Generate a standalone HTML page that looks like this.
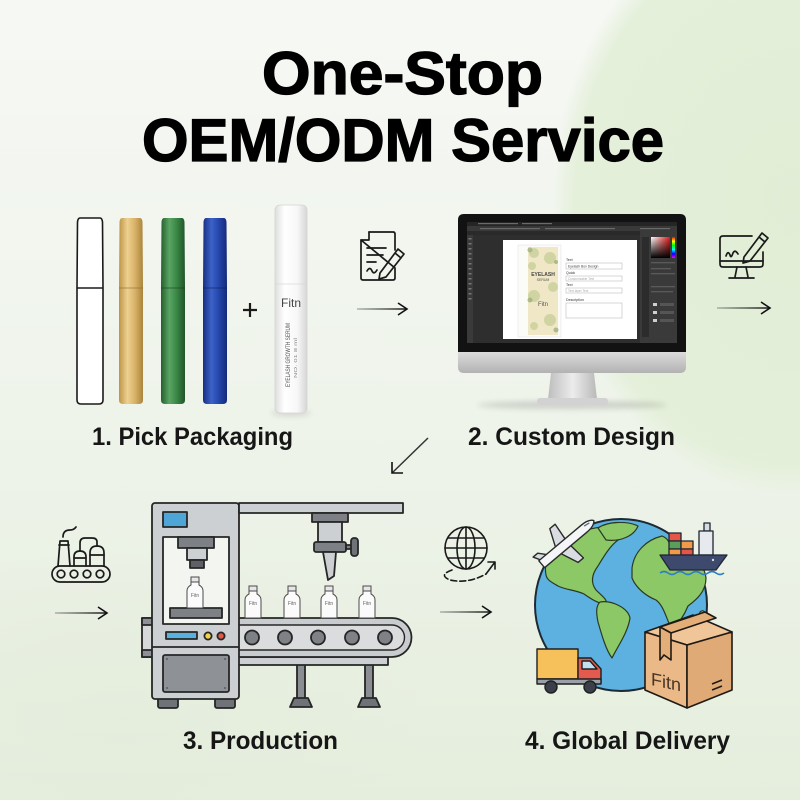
<!DOCTYPE html>
<html><head><meta charset="utf-8"><style>
html,body{margin:0;padding:0;width:800px;height:800px;overflow:hidden;background:#f1f5ee}
svg{display:block;overflow:hidden}
text{font-family:"Liberation Sans",sans-serif}
</style></head><body>
<svg width="800" height="800" viewBox="0 0 800 800" xmlns="http://www.w3.org/2000/svg">
<defs>
<clipPath id="pg"><rect width="800" height="800"/></clipPath>
<linearGradient id="bg" x1="0" y1="0" x2="0" y2="1">
<stop offset="0" stop-color="#f6f8f4"/><stop offset="0.5" stop-color="#eff4eb"/><stop offset="1" stop-color="#e5eedd"/></linearGradient>
<radialGradient id="blob" gradientUnits="userSpaceOnUse" cx="0" cy="0" r="1" gradientTransform="translate(790 200) scale(250 310)">
<stop offset="0" stop-color="#e1edd5"/><stop offset="0.86" stop-color="#e3efd8" stop-opacity="0.9"/><stop offset="0.95" stop-color="#e3efd8" stop-opacity="0"/></radialGradient>
<radialGradient id="blob2" gradientUnits="userSpaceOnUse" cx="0" cy="0" r="1" gradientTransform="translate(120 720) scale(320 170)">
<stop offset="0" stop-color="#e4ecdc" stop-opacity="0.8"/><stop offset="1" stop-color="#e4ecdc" stop-opacity="0"/></radialGradient>
<filter id="blur3" x="-20%" y="-100%" width="140%" height="300%"><feGaussianBlur stdDeviation="3"/></filter>
<linearGradient id="gold" x1="0" x2="1"><stop offset="0" stop-color="#bd9448"/><stop offset="0.35" stop-color="#ecd190"/><stop offset="0.65" stop-color="#dab469"/><stop offset="1" stop-color="#ab843b"/></linearGradient>
<linearGradient id="green" x1="0" x2="1"><stop offset="0" stop-color="#255f2e"/><stop offset="0.35" stop-color="#5aa564"/><stop offset="0.65" stop-color="#3a8745"/><stop offset="1" stop-color="#215528"/></linearGradient>
<linearGradient id="blue" x1="0" x2="1"><stop offset="0" stop-color="#172f85"/><stop offset="0.35" stop-color="#3d62c8"/><stop offset="0.65" stop-color="#2447ad"/><stop offset="1" stop-color="#142a78"/></linearGradient>
<linearGradient id="white" x1="0" x2="1"><stop offset="0" stop-color="#dedede"/><stop offset="0.3" stop-color="#ffffff"/><stop offset="0.7" stop-color="#f7f7f7"/><stop offset="1" stop-color="#d6d6d6"/></linearGradient>
<linearGradient id="chin" x1="0" y1="0" x2="0" y2="1"><stop offset="0" stop-color="#dcdcdc"/><stop offset="1" stop-color="#b2b2b2"/></linearGradient>
<linearGradient id="neck" x1="0" x2="1"><stop offset="0" stop-color="#bdbdbd"/><stop offset="0.5" stop-color="#ececec"/><stop offset="1" stop-color="#b9b9b9"/></linearGradient>
<linearGradient id="picker" x1="0" x2="1"><stop offset="0" stop-color="#ffffff"/><stop offset="1" stop-color="#e01a1a"/></linearGradient>
<linearGradient id="pickerd" x1="0" y1="0" x2="0" y2="1"><stop offset="0" stop-color="#000" stop-opacity="0"/><stop offset="1" stop-color="#000"/></linearGradient>
<linearGradient id="rainbow" x1="0" y1="0" x2="0" y2="1"><stop offset="0" stop-color="#f00"/><stop offset="0.2" stop-color="#ff0"/><stop offset="0.4" stop-color="#0f0"/><stop offset="0.6" stop-color="#0ff"/><stop offset="0.8" stop-color="#00f"/><stop offset="1" stop-color="#f0f"/></linearGradient>
<linearGradient id="a1" gradientUnits="userSpaceOnUse" x1="357" y1="0" x2="407" y2="0"><stop offset="0" stop-color="#222" stop-opacity="0.3"/><stop offset="1" stop-color="#111"/></linearGradient>
<linearGradient id="a2" gradientUnits="userSpaceOnUse" x1="717" y1="0" x2="770" y2="0"><stop offset="0" stop-color="#222" stop-opacity="0.3"/><stop offset="1" stop-color="#111"/></linearGradient>
<linearGradient id="a3" gradientUnits="userSpaceOnUse" x1="55" y1="0" x2="107" y2="0"><stop offset="0" stop-color="#222" stop-opacity="0.3"/><stop offset="1" stop-color="#111"/></linearGradient>
<linearGradient id="a4" gradientUnits="userSpaceOnUse" x1="440" y1="0" x2="491" y2="0"><stop offset="0" stop-color="#222" stop-opacity="0.3"/><stop offset="1" stop-color="#111"/></linearGradient>
</defs>

<g clip-path="url(#pg)">
<rect width="800" height="800" fill="url(#bg)"/>
<rect width="800" height="800" fill="url(#blob)"/>
<rect width="800" height="800" fill="url(#blob2)"/>

<!-- title -->
<text x="262" y="94" font-size="60" font-weight="bold" fill="#000" stroke="#000" stroke-width="1.3" textLength="281" lengthAdjust="spacingAndGlyphs">One-Stop</text>
<text x="142" y="161" font-size="60" font-weight="bold" fill="#000" stroke="#000" stroke-width="1.3" textLength="522" lengthAdjust="spacingAndGlyphs">OEM/ODM Service</text>

<!-- ========== Step 1: tubes ========== -->
<g stroke-linejoin="round">
<path d="M80,218 H100 Q102,218 102.5,222 L103,288 V400 Q103,404 99,404 H81 Q77,404 77,400 V288 L77.5,222 Q78,218 80,218 Z" fill="#fff" stroke="#1a1a1a" stroke-width="1.6"/>
<line x1="77" y1="288" x2="103" y2="288" stroke="#1a1a1a" stroke-width="1.4"/>
<path d="M122,218 H140 Q142,218 142.5,222 L143,288 V400 Q143,404 139,404 H123 Q119,404 119,400 V288 L119.5,222 Q120,218 122,218 Z" fill="url(#gold)"/>
<line x1="119" y1="288" x2="143" y2="288" stroke="#8d6c30" stroke-width="1" opacity="0.6"/>
<path d="M164,218 H182 Q184,218 184.5,222 L185,288 V400 Q185,404 181,404 H165 Q161,404 161,400 V288 L161.5,222 Q162,218 164,218 Z" fill="url(#green)"/>
<line x1="161" y1="288" x2="185" y2="288" stroke="#163f1c" stroke-width="1" opacity="0.6"/>
<path d="M206,218 H224 Q226,218 226.5,222 L227,288 V400 Q227,404 223,404 H207 Q203,404 203,400 V288 L203.5,222 Q204,218 206,218 Z" fill="url(#blue)"/>
<line x1="203" y1="288" x2="227" y2="288" stroke="#0d1f5c" stroke-width="1" opacity="0.6"/>
</g>
<path d="M243,310 H257 M250,303 V317" stroke="#1a1a1a" stroke-width="2.2"/>
<ellipse cx="291" cy="413" rx="20" ry="3" fill="#000" opacity="0.12" filter="url(#blur3)"/>
<rect x="275" y="205" width="32" height="208" rx="5" fill="url(#white)" stroke="#d4d4d4" stroke-width="0.8"/>
<line x1="275.5" y1="284" x2="306.5" y2="284" stroke="#d8d8d8" stroke-width="0.8"/>
<text x="291" y="307" font-size="12" text-anchor="middle" fill="#444" font-family="Liberation Serif,serif">Fitn</text>
<text transform="translate(290,387) rotate(-90)" font-size="6" fill="#555" textLength="64" lengthAdjust="spacingAndGlyphs">EYELASH GROWTH SERUM</text>
<text transform="translate(297,378) rotate(-90)" font-size="4.5" fill="#888" textLength="40" lengthAdjust="spacingAndGlyphs">NO. 01 8 ml</text>

<!-- doc icon -->
<g fill="none" stroke="#1a1a1a" stroke-width="1.7" stroke-linejoin="round" stroke-linecap="round">
<path d="M369,232 H393 Q395,232 395,234 V250 M395,268 V278 Q395,280 393,280 H363 Q361,280 361,278 V240 Z"/>
<path d="M369,232 V240 H361"/>
<path d="M367,248 H386 M367,255 H383 M367,262 H376"/>
<path d="M367,271 q3,-5 5,0 q2,4 5,-1"/>
<path d="M380,273 L398,249 L404,254 L386,277 L379,279 Z M395,253 L401,258"/>
</g>
<path d="M357,309 H406" stroke="url(#a1)" stroke-width="1.6"/>
<path d="M398,303 L407,309 L398,315" fill="none" stroke="#111" stroke-width="1.6"/>

<!-- ========== Step 2: monitor ========== -->
<ellipse cx="572" cy="405" rx="95" ry="4" fill="#000" opacity="0.14" filter="url(#blur3)"/>
<path d="M551,373 L594,373 L597,399 L548,399 Z" fill="url(#neck)"/>
<rect x="537" y="398" width="71" height="7" rx="3" fill="#d2d2d2"/>
<path d="M458,352 V220 Q458,214 464,214 H680 Q686,214 686,220 V352 Z" fill="#121212"/>
<path d="M458,352 H686 V367 Q686,373 680,373 H464 Q458,373 458,367 Z" fill="url(#chin)"/>
<rect x="467" y="222" width="210" height="121" fill="#2e2e2e"/>
<rect x="467" y="222" width="210" height="4" fill="#252525"/>
<rect x="467" y="226" width="210" height="5" fill="#393939"/>
<rect x="467" y="231" width="173" height="4" fill="#2a2a2a"/>
<rect x="467" y="235" width="6" height="108" fill="#3a3a3a"/>
<g fill="#777"><rect x="468.5" y="238" width="3" height="1.5"/><rect x="468.5" y="243" width="3" height="1.5"/><rect x="468.5" y="248" width="3" height="1.5"/><rect x="468.5" y="253" width="3" height="1.5"/><rect x="468.5" y="258" width="3" height="1.5"/><rect x="468.5" y="263" width="3" height="1.5"/><rect x="468.5" y="268" width="3" height="1.5"/><rect x="468.5" y="273" width="3" height="1.5"/><rect x="468.5" y="278" width="3" height="1.5"/><rect x="468.5" y="283" width="3" height="1.5"/><rect x="468.5" y="288" width="3" height="1.5"/><rect x="468.5" y="293" width="3" height="1.5"/><rect x="468.5" y="298" width="3" height="1.5"/></g>
<g fill="#6a6a6a"><rect x="478" y="223" width="40" height="1.2"/><rect x="522" y="223" width="30" height="1.2"/><rect x="480" y="228" width="60" height="1.2"/><rect x="545" y="228" width="70" height="1.2"/><rect x="640" y="228" width="30" height="1.2"/></g>
<rect x="640" y="231" width="37" height="112" fill="#3a3a3a"/>
<rect x="642" y="237" width="7" height="100" fill="#2c2c2c"/>
<rect x="651" y="237" width="19" height="21" fill="url(#picker)"/>
<rect x="651" y="237" width="19" height="21" fill="url(#pickerd)"/>
<rect x="672" y="237" width="3" height="21" fill="url(#rainbow)"/>
<g fill="#5a5a5a"><rect x="651" y="262" width="24" height="1.3"/><rect x="651" y="268" width="20" height="1.3"/><rect x="651" y="273" width="24" height="1.3"/><rect x="651" y="286" width="24" height="1.3"/><rect x="651" y="291" width="22" height="1.3"/></g>
<g fill="#cfcfcf"><rect x="653" y="303" width="4" height="3"/><rect x="653" y="311" width="4" height="3"/><rect x="653" y="319" width="4" height="3"/></g>
<g fill="#555"><rect x="660" y="303" width="14" height="3"/><rect x="660" y="311" width="14" height="3"/><rect x="660" y="319" width="14" height="3"/></g>
<rect x="503" y="240" width="134" height="99" fill="#ffffff"/>
<rect x="518" y="245" width="43" height="92" fill="#fbfbf8" stroke="#e0e0e0" stroke-width="0.5"/>
<rect x="528" y="247" width="30" height="88" fill="#efe7c6"/>
<g fill="#cdd3a0" opacity="0.9">
<circle cx="534" cy="253" r="5"/><circle cx="550" cy="258" r="6"/><circle cx="532" cy="266" r="4"/><circle cx="553" cy="287" r="5"/><circle cx="534" cy="296" r="6"/><circle cx="550" cy="320" r="6"/><circle cx="534" cy="326" r="4"/></g>
<g fill="#9fb07a" opacity="0.8"><circle cx="530" cy="250" r="2.5"/><circle cx="556" cy="262" r="2"/><circle cx="530" cy="300" r="2.5"/><circle cx="556" cy="330" r="2.5"/></g>
<text x="543" y="276" font-size="5" text-anchor="middle" font-weight="bold" fill="#444">EYELASH</text>
<text x="543" y="281" font-size="3.5" text-anchor="middle" fill="#555">SERUM</text>
<text x="543" y="306" font-size="6" text-anchor="middle" fill="#555">Fitn</text>
<g font-size="3.6" fill="#333">
<text x="566" y="261">Text</text>
<text x="566" y="274">Quick</text>
<text x="566" y="286">Text</text>
<text x="566" y="301">Description</text>
</g>
<g fill="#fff" stroke="#bdbdbd" stroke-width="0.6">
<rect x="566" y="263" width="56" height="6"/><rect x="566" y="276" width="56" height="5"/><rect x="566" y="288" width="56" height="5"/><rect x="566" y="303" width="56" height="15"/></g>
<g font-size="3.4" fill="#444"><text x="568" y="267.5">Eyelash Box Design</text></g>
<g font-size="3.2" fill="#aaa"><text x="568" y="280">Customizable Text</text><text x="568" y="292">Text layer Text</text></g>

<!-- monitor-pen icon -->
<g fill="none" stroke="#1a1a1a" stroke-width="1.7" stroke-linejoin="round" stroke-linecap="round">
<path d="M752,236 H723 Q720,236 720,239 V264 Q720,267 723,267 H760 Q763,267 763,264 V252"/>
<path d="M720,261 H763"/>
<path d="M737,267 L735,277 M746,267 L748,277 M729,278 H754"/>
<path d="M726,256 q2,-6 4,-1 q1,4 3,-2 q2,-4 5,1"/>
<path d="M744,257 L762,233 L768,238 L750,261 L743,263 Z M759,237 L765,242"/>
</g>
<path d="M717,308 H769" stroke="url(#a2)" stroke-width="1.6"/>
<path d="M761,302 L770,308 L761,314" fill="none" stroke="#111" stroke-width="1.6"/>

<!-- diagonal arrow -->
<path d="M428,438 L392,473" stroke="#333" stroke-width="1.5"/>
<path d="M392,462 L392,473 L403,473" fill="none" stroke="#111" stroke-width="1.6"/>

<text x="92" y="445" font-size="25" font-weight="bold" fill="#161616" textLength="201" lengthAdjust="spacingAndGlyphs">1. Pick Packaging</text>
<text x="468" y="445" font-size="25" font-weight="bold" fill="#161616" textLength="207" lengthAdjust="spacingAndGlyphs">2. Custom Design</text>

<!-- ========== Step 3: production ========== -->
<g fill="none" stroke="#1a1a1a" stroke-width="1.7" stroke-linejoin="round" stroke-linecap="round">
<rect x="52" y="566" width="58" height="16" rx="8"/>
<circle cx="61" cy="574" r="3.8"/><circle cx="74" cy="574" r="3.8"/><circle cx="87" cy="574" r="3.8"/><circle cx="100" cy="574" r="3.8"/>
<path d="M58,566 L60,541 H68 L70,566"/>
<path d="M59,545 H69"/>
<path d="M63,537 q0,-7 7,-7 q4,0 6,-3"/>
<path d="M74,566 V557 Q74,551 80,551 Q86,551 86,557 V566"/>
<path d="M74,558 H86"/>
<path d="M90,566 V553 Q90,546 97,546 Q104,546 104,553 V566"/>
<path d="M90,555 H104"/>
<path d="M80,551 V543 Q80,538 85,538 H92 Q97,538 97,542 V546"/>
</g>
<path d="M55,613 H106" stroke="url(#a3)" stroke-width="1.6"/>
<path d="M98,607 L107,613 L98,619" fill="none" stroke="#111" stroke-width="1.6"/>

<g stroke="#262626" stroke-width="1.8" stroke-linejoin="round">
<rect x="142" y="618" width="11" height="39" fill="#d6d8da"/>
<rect x="142" y="618" width="11" height="7" fill="#8d9195"/>
<rect x="142" y="650" width="11" height="7" fill="#8d9195"/>
<rect x="297" y="664" width="8" height="35" fill="#8a8e92"/>
<rect x="365" y="664" width="8" height="35" fill="#8a8e92"/>
<path d="M290,707 L312,707 L308,698 L294,698 Z" fill="#6f7377"/>
<path d="M358,707 L380,707 L376,698 L362,698 Z" fill="#6f7377"/>
<rect x="238" y="657" width="150" height="8" fill="#cdd0d3"/>
<path d="M238,618 H392 A19.5,19.5 0 0 1 392,657 H238 Z" fill="#c9ccce"/>
<path d="M238,625 H392 A12.5,12.5 0 0 1 392,650 H238 Z" fill="#dadcde" stroke-width="1.4"/>
<circle cx="252" cy="637.5" r="7" fill="#7e8286"/>
<circle cx="285" cy="637.5" r="7" fill="#7e8286"/>
<circle cx="318" cy="637.5" r="7" fill="#7e8286"/>
<circle cx="352" cy="637.5" r="7" fill="#7e8286"/>
<circle cx="385" cy="637.5" r="7" fill="#7e8286"/>
<rect x="158" y="697" width="20" height="11" rx="2" fill="#6f7377"/>
<rect x="215" y="697" width="20" height="11" rx="2" fill="#6f7377"/>
<rect x="152" y="503" width="87" height="196" rx="3" fill="#cdd0d3"/>
<rect x="163" y="537" width="66" height="87" fill="#f3f6f0"/>
<line x1="152" y1="647" x2="239" y2="647"/>
<rect x="163" y="655" width="66" height="37" rx="2" fill="#8e9296"/>
<rect x="163" y="512" width="24" height="15" fill="#4da5d8"/>
<rect x="166" y="632" width="31" height="7" fill="#58b2df"/>
<circle cx="208" cy="636" r="3.6" fill="#f2d24a"/>
<circle cx="221" cy="636" r="3.6" fill="#e0584a"/>
<rect x="239" y="503" width="164" height="10" fill="#cdd0d3"/>
<rect x="178" y="537" width="36" height="11" fill="#7d8185"/>
<rect x="187" y="548" width="20" height="12" fill="#cdd0d3"/>
<rect x="190" y="560" width="14" height="8" fill="#5d6165"/>
<rect x="170" y="608" width="52" height="10" fill="#7d8185"/>
<rect x="312" y="513" width="36" height="9" fill="#7d8185"/>
<rect x="318" y="522" width="24" height="20" fill="#cdd0d3"/>
<rect x="314" y="542" width="32" height="10" rx="2" fill="#7d8185"/>
<rect x="346" y="545" width="6" height="4" fill="#7d8185"/>
<rect x="351" y="538" width="7" height="18" rx="3" fill="#6f7377"/>
<path d="M323,552 L336,552 L334,576 L328,580 Z" fill="#cdd0d3"/>
</g>
<g fill="#5a5d60"><circle cx="167" cy="659" r="1"/><circle cx="225" cy="659" r="1"/><circle cx="167" cy="688" r="1"/><circle cx="225" cy="688" r="1"/></g>
<g stroke="#4a4a4a" stroke-width="1" fill="#fbfbfb">
<g transform="translate(195,577)"><rect x="-4" y="0" width="8" height="5" fill="#e6e6e6"/><path d="M-4,5 L-4,8 Q-8,10 -8,14 L-8,31 L8,31 L8,14 Q8,10 4,8 L4,5 Z"/></g>
<g transform="translate(253,586)"><rect x="-4" y="0" width="8" height="5" fill="#e6e6e6"/><path d="M-4,5 L-4,8 Q-8,10 -8,14 L-8,32 L8,32 L8,14 Q8,10 4,8 L4,5 Z"/></g>
<g transform="translate(292,586)"><rect x="-4" y="0" width="8" height="5" fill="#e6e6e6"/><path d="M-4,5 L-4,8 Q-8,10 -8,14 L-8,32 L8,32 L8,14 Q8,10 4,8 L4,5 Z"/></g>
<g transform="translate(329,586)"><rect x="-4" y="0" width="8" height="5" fill="#e6e6e6"/><path d="M-4,5 L-4,8 Q-8,10 -8,14 L-8,32 L8,32 L8,14 Q8,10 4,8 L4,5 Z"/></g>
<g transform="translate(367,586)"><rect x="-4" y="0" width="8" height="5" fill="#e6e6e6"/><path d="M-4,5 L-4,8 Q-8,10 -8,14 L-8,32 L8,32 L8,14 Q8,10 4,8 L4,5 Z"/></g>
</g>
<g font-size="5" fill="#666" text-anchor="middle">
<text x="195" y="597">Fitn</text><text x="253" y="605">Fitn</text><text x="292" y="605">Fitn</text><text x="329" y="605">Fitn</text><text x="367" y="605">Fitn</text></g>

<!-- ========== Step 4: delivery ========== -->
<g fill="none" stroke="#1a1a1a" stroke-width="1.6" stroke-linecap="round">
<circle cx="466" cy="548" r="21"/>
<ellipse cx="466" cy="548" rx="9" ry="21"/>
<path d="M466,527 V569 M445,548 H487 M448,538 H484 M448,558 H484"/>
<path d="M452,570 Q438,575 450,580 Q468,584 486,574" stroke-dasharray="6,3"/>
<path d="M486,574 L495,562 M495,562 L488,562 M495,562 L495,569"/>
</g>
<path d="M440,612 H490" stroke="url(#a4)" stroke-width="1.6"/>
<path d="M482,606 L491,612 L482,618" fill="none" stroke="#111" stroke-width="1.6"/>

<!-- big globe -->
<circle cx="621" cy="605" r="86" fill="#5cb1e1" stroke="#1d2a33" stroke-width="2"/>
<g fill="#8cc866" stroke="#2a3a22" stroke-width="1.2" stroke-linejoin="round">
<path d="M546,575 C543,560 553,545 568,538 C580,530 598,526 620,526 C630,528 626,536 618,540 C610,546 604,556 598,566 C592,574 590,582 596,590 C602,596 608,600 606,604 C598,604 590,598 584,594 C576,590 566,590 558,586 C551,582 547,580 546,575 Z"/>
<path d="M598,528 C608,521 628,521 638,526 C634,536 620,542 606,540 Z"/>
<path d="M600,602 C612,600 628,608 630,618 C628,632 618,646 612,658 C606,650 602,636 598,622 C596,612 596,606 600,602 Z"/>
<path d="M632,568 C634,552 646,540 662,536 C672,540 668,548 676,552 C690,552 704,562 706,578 C706,592 696,600 688,606 C684,616 678,624 672,630 C666,618 664,606 656,600 C646,596 636,588 632,578 Z"/>
<path d="M700,612 C704,608 708,614 705,624 C700,628 697,620 700,612 Z"/>
</g>
<!-- plane -->
<g transform="translate(567,543) rotate(-40)" stroke="#2a2a2a" stroke-width="1.4" stroke-linejoin="round">
<path d="M-12,-3 L-4,-22 L3,-22 L1,-3 Z" fill="#d9dde2"/>
<path d="M-12,3 L-4,22 L3,22 L1,3 Z" fill="#d9dde2"/>
<path d="M-30,-2 L-35,-11 L-29,-11 L-22,-3 Z" fill="#d9dde2"/>
<path d="M-33,-4.5 H22 Q32,-4.5 35,0 Q32,4.5 22,4.5 H-33 Z" fill="#f4f5f7"/>
<path d="M24,-2 L30,-1" stroke="#5a6b80"/>
</g>
<!-- ship -->
<g stroke="#1f2533" stroke-width="1.3" stroke-linejoin="round">
<rect x="704" y="523" width="6" height="8" fill="#d8dde3"/>
<rect x="699" y="531" width="14" height="24" fill="#e6e9ee"/>
<rect x="669" y="533" width="12" height="8" fill="#e2574a"/>
<rect x="669" y="541" width="12" height="8" fill="#5a9e5a"/>
<rect x="681" y="541" width="12" height="8" fill="#f09a4a"/>
<rect x="669" y="549" width="12" height="6" fill="#f09a4a"/>
<rect x="681" y="549" width="12" height="6" fill="#e2574a"/>
<path d="M660,555 L727,555 L716,570 L670,570 Z" fill="#3e4a6d"/>
</g>
<circle cx="713" cy="560" r="1.2" fill="#cfd8e6"/>
<path d="M660,573 q4,-3 8,0 t8,0 t8,0 t8,0 t8,0 t8,0 t8,0 t8,0" fill="none" stroke="#2f7fc1" stroke-width="1.6"/>
<!-- truck -->
<g stroke="#1f1f1f" stroke-width="1.4" stroke-linejoin="round">
<rect x="537" y="649" width="41" height="30" fill="#f6c15b"/>
<path d="M578,658 H591 L601,669 V683 H578 Z" fill="#e45a4e"/>
<path d="M582,661 H590 L597,669 H582 Z" fill="#bfe0f0"/>
<rect x="537" y="679" width="64" height="5" fill="#9aa0a8"/>
<circle cx="551" cy="687" r="6" fill="#3a3f4a"/>
<circle cx="590" cy="687" r="6" fill="#3a3f4a"/>
</g>
<!-- box -->
<g stroke="#1f1a15" stroke-width="1.6" stroke-linejoin="round">
<path d="M645,632 L693,615 L732,632 L687,645 Z" fill="#f0c597"/>
<path d="M645,632 L687,645 L687,708 L645,690 Z" fill="#eab987"/>
<path d="M687,645 L732,632 L732,690 L687,708 Z" fill="#e0aa76"/>
<path d="M660,627 L705,612 L716,618 L671,633 Z" fill="#e3ae78"/>
<path d="M660,627 L671,633 L671,660 L664,655 L660,660 Z" fill="#e3ae78"/>
<path d="M712,684 L722,680 M712,690 L722,686" fill="none"/>
</g>
<text transform="translate(651,685) skewY(12)" font-size="18" fill="#4a3525" font-family="Liberation Serif,serif">Fitn</text>

<text x="183" y="749" font-size="25" font-weight="bold" fill="#161616" textLength="155" lengthAdjust="spacingAndGlyphs">3. Production</text>
<text x="525" y="749" font-size="25" font-weight="bold" fill="#161616" textLength="205" lengthAdjust="spacingAndGlyphs">4. Global Delivery</text>
</g>
</svg>
</body></html>
